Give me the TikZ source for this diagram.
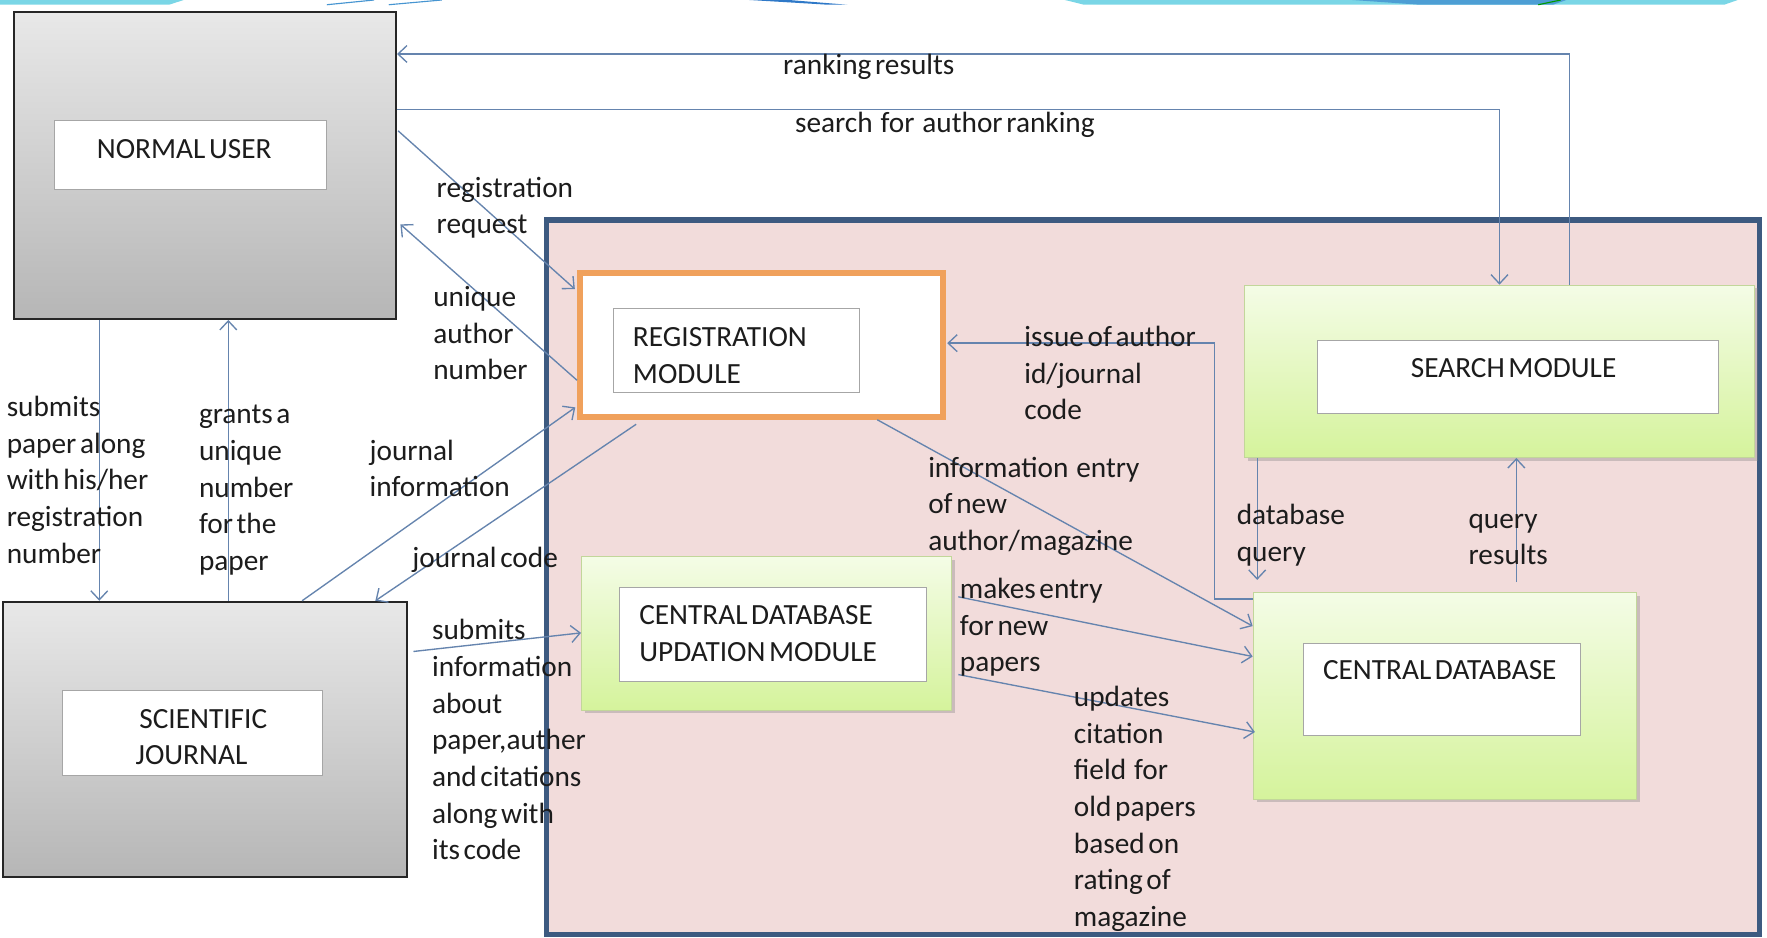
\documentclass[tikz,border=0pt]{standalone}
\usepackage{fontspec}
\setmainfont{Carlito}[WordSpace=0.55]
\usetikzlibrary{arrows.meta,calc,shadows}
\definecolor{arrowc}{HTML}{6584AE}
\definecolor{pinkfill}{HTML}{F2DCDB}
\definecolor{pinkedge}{HTML}{3D5A80}
\definecolor{orangeedge}{HTML}{F0A15C}
\definecolor{grayT}{HTML}{E8E8E8}
\definecolor{grayB}{HTML}{B6B6B6}
\definecolor{greenT}{HTML}{F4FCE6}
\definecolor{greenB}{HTML}{D5F39C}
\definecolor{greenedge}{HTML}{C2D69A}
\definecolor{cyanband}{HTML}{7AD6E6}
\definecolor{blueband}{HTML}{2F79C8}
\definecolor{txt}{HTML}{1C1C1C}
\newcommand{\widesp}{\hspace{7pt}}
\begin{document}
\begin{tikzpicture}[x=1pt,y=-1pt,
  every node/.style={font=\fontsize{26}{32.5}\selectfont, text=txt},
  arr/.style={draw=arrowc, line width=1.2pt, -{Straight Barb[length=8pt,width=15pt,line width=1.2pt]}},
  lbl/.style={anchor=north west, align=left, inner sep=0pt, outer sep=0pt},
  graybox/.style={draw=black!85, line width=1.8pt, top color=grayT, bottom color=grayB, inner sep=0pt, minimum width=#1},
  greenbox/.style={draw=greenedge, line width=0.8pt, top color=greenT, bottom color=greenB, inner sep=0pt,
     drop shadow={opacity=0.35, shadow xshift=3pt, shadow yshift=-3pt}},
  inbox/.style={draw=black!35, fill=white, line width=0.8pt, inner sep=0pt},
]
\useasboundingbox (0,0) rectangle (1568,831.5);
\fill[white] (0,0) rectangle (1568,831.5);

% top decorative band
\fill[cyanband] (0,0) -- (163,0) -- (150,4.2) -- (0,4.2) -- cycle;
\draw[blueband!70!cyanband, line width=1pt] (290,4.2) -- (332,0);
\draw[blueband!70!cyanband, line width=1pt] (345,4.2) -- (392,0);
\fill[blueband] (665,0) -- (700,0) -- (752,4.2) -- (735,4.2) -- cycle;
\fill[cyanband] (945,0) -- (1542,0) -- (1530,4.2) -- (962,4.2) -- cycle;
\fill[blueband!60!cyanband] (1200,0) -- (1390,0) -- (1378,4.2) -- (1260,4.2) -- cycle;
\draw[green!60!black, line width=1pt] (1365,4.2) -- (1385,0);

% main boxes
\node[draw=pinkedge, fill=pinkfill, line width=4.5pt, inner sep=0pt, minimum width=1076pt, minimum height=634.3pt] (pk) at (1023,512.35) {};

\node[graybox=339pt, minimum height=272pt] (nu) at (181.9,147) {};
\node[inbox, minimum width=242pt, minimum height=61.2pt] (nuin) at (169,137.1) {};

\node[graybox=358.5pt, minimum height=244pt] (sj) at (181.75,656) {};
\node[inbox, minimum width=231pt, minimum height=75pt] (sjin) at (170.5,650.5) {};

\node[draw=orangeedge, fill=white, line width=5pt, inner sep=0pt, minimum width=322.4pt, minimum height=127.5pt] (rm) at (675.8,306.25) {};
\node[inbox, minimum width=219pt, minimum height=74pt] (rmin) at (653.5,311) {};

\node[greenbox, minimum width=453pt, minimum height=153pt] (sm) at (1330.5,329.5) {};
\node[inbox, minimum width=356pt, minimum height=65pt] (smin) at (1347,334.5) {};

\node[greenbox, minimum width=328pt, minimum height=136pt] (cu) at (680,562) {};
\node[inbox, minimum width=272.5pt, minimum height=84pt] (cuin) at (685.6,563) {};

\node[greenbox, minimum width=340pt, minimum height=183.5pt] (cd) at (1282,617.25) {};
\node[inbox, minimum width=245pt, minimum height=82pt] (cdin) at (1279.5,612) {};

% titles
\node[lbl] (t1) at (86,{140.5-22.75}) {\strut NORMAL USER};
\node[lbl] (t2) at (561.7,{307.6-22.75}) {\strut REGISTRATION\\\strut MODULE};
\node[lbl] (t3) at (1252,{334.8-22.75}) {\strut SEARCH MODULE};
\node[lbl] (t4) at (567.3,{554.6-22.75}) {\strut CENTRAL DATABASE\\\strut UPDATION MODULE};
\node[lbl] (t5) at (1174,{603.4-22.75}) {\strut CENTRAL DATABASE};
\node[lbl] (t6) at (120.4,{646.3-22.75}) {\strut\hspace*{3.3pt}SCIENTIFIC\\\strut JOURNAL};

% connectors
\draw[arr] ($(sm.north west)+(289,0)$) |- ($(nu.north east)+(0,37.8)$);
\draw[arr] ($(nu.north east)+(0,87.2)$) -| ($(sm.north west)+(227,0)$);
\draw[arr] ($(nu.north east)+(1,106)$) -- ($(rm.north west)+(-2,16.5)$);
\draw[arr] ($(rm.north west)+(0,97.5)$) -- ($(nu.north east)+(3,189)$);
\draw[arr] ($(sj.north west)+(266.5,0)$) -- ($(rm.south west)+(-1.6,-11)$);
\draw[arr] ($(rm.south west)+(52.4,4)$) -- ($(sj.north west)+(331.5,0)$);
\draw[arr] ($(nu.south west)+(76.6,0)$) -- ($(sj.north west)+(86.5,0)$);
\draw[arr] ($(sj.north west)+(201,0)$) -- ($(nu.south west)+(191.1,0)$);
\draw[arr] ($(sj.north east)+(5,45)$) -- ($(cu.north west)+(0,68)$);
\draw[arr] ($(cd.north west)+(0,6.5)$) -- ++(-34,0) |- ($(rm.north east)+(1,64.5)$);
\draw[arr] ($(rm.south east)+(-61,0)$) -- ($(cd.north west)+(0,30.5)$);
\draw[arr] ($(cu.north east)+(6,36)$) -- ($(cd.north west)+(0,57.5)$);
\draw[arr] ($(cu.north east)+(6,105)$) -- ($(cd.north west)+(2,124.5)$);
\draw[arr] ($(sm.south west)+(12,0)$) -- ($(cd.north west)+(4,-10.5)$);
\draw[arr] ($(cd.north west)+(234,-8.5)$) -- ($(sm.south west)+(242,0)$);

% labels
\node[lbl] (l1) at (695,{66-22.75}) {\strut ranking results};
\node[lbl] (l2) at (705.5,{117.7-22.75}) {\strut search\widesp for\widesp author ranking};
\node[lbl] (l3) at (387.5,{175-22.75}) {\strut registration\\\strut request};
\node[lbl] (l4) at (384.5,{272-22.75}) {\strut unique\\\strut author\\\strut number};
\node[lbl] (l5) at (328,{408.2-22.75}) {\strut journal\\\strut information};
\node[lbl] (l6) at (366,{503.4-22.75}) {\strut journal code};
\node[lbl] (l7) at (6,{369.7-22.75}) {\strut submits\\\strut paper along\\\strut with his/her\\\strut registration\\\strut number};
\node[lbl] (l8) at (176.6,{376.2-22.75}) {\strut grants a\\\strut unique\\\strut number\\\strut for the\\\strut paper};
\node[lbl] (l9) at (383.4,{567.9-22.75}) {\strut submits\\\strut information\\\strut about\\\strut paper,auther\\\strut and citations\\\strut along with\\\strut its code};
\node[lbl] (l10) at (909,{307.6-22.75}) {\strut issue of author\\\strut id/journal\\\strut code};
\node[lbl] (l11) at (823.7,{423.5-22.75}) {\strut information\widesp entry\\\strut of new\\\strut author/magazine};
\node[lbl] (l12) at (851.8,{531-22.75}) {\strut makes entry\\\strut for new\\\strut papers};
\node[lbl] (l13) at (953,{627-22.75}) {\strut updates\\\strut citation\\\strut field\widesp for\\\strut old papers\\\strut based on\\\strut rating of\\\strut magazine};
\node[lbl] (l14) at (1097.5,{465.8-22.75}) {\strut database\\\strut query};
\node[lbl] (l15) at (1303.2,{468.8-22.75}) {\strut query\\\strut results};
\end{tikzpicture}
\end{document}
